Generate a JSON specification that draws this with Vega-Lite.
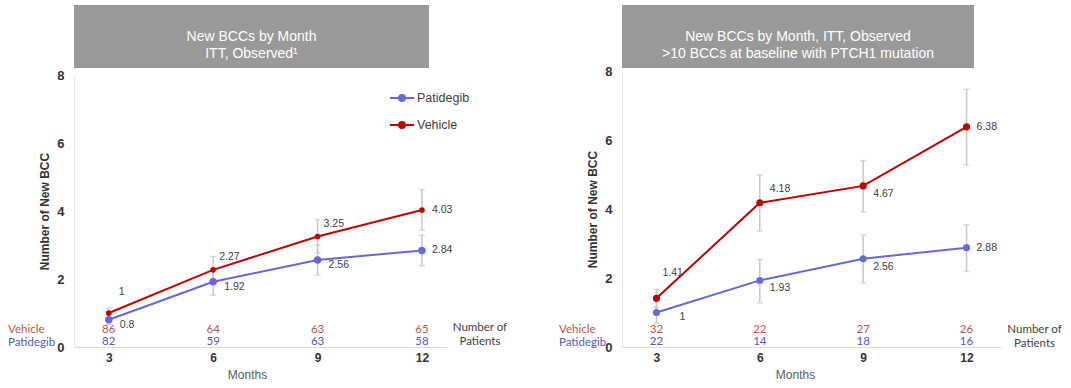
{
  "$schema": "https://vega.github.io/schema/vega-lite/v6.json",
  "background": "white",
  "padding": {"left": 8, "top": 5, "right": 5, "bottom": 0},
  "config": {"view": {"stroke": null}, "font": "Liberation Sans"},
  "datasets": {
    "itt": [
      {"month": 3, "group": "Vehicle", "mean": 1, "lo": 0.86, "hi": 1.14, "n": 86},
      {"month": 6, "group": "Vehicle", "mean": 2.27, "lo": 1.88, "hi": 2.66, "n": 64},
      {"month": 9, "group": "Vehicle", "mean": 3.25, "lo": 2.76, "hi": 3.75, "n": 63},
      {"month": 12, "group": "Vehicle", "mean": 4.03, "lo": 3.44, "hi": 4.63, "n": 65},
      {"month": 3, "group": "Patidegib", "mean": 0.8, "lo": 0.66, "hi": 0.94, "n": 82},
      {"month": 6, "group": "Patidegib", "mean": 1.92, "lo": 1.53, "hi": 2.31, "n": 59},
      {"month": 9, "group": "Patidegib", "mean": 2.56, "lo": 2.12, "hi": 3.0, "n": 63},
      {"month": 12, "group": "Patidegib", "mean": 2.84, "lo": 2.39, "hi": 3.29, "n": 58}
    ],
    "ptch": [
      {"month": 3, "group": "Vehicle", "mean": 1.41, "lo": 1.15, "hi": 1.67, "n": 32},
      {"month": 6, "group": "Vehicle", "mean": 4.18, "lo": 3.36, "hi": 4.99, "n": 22},
      {"month": 9, "group": "Vehicle", "mean": 4.67, "lo": 3.92, "hi": 5.4, "n": 27},
      {"month": 12, "group": "Vehicle", "mean": 6.38, "lo": 5.28, "hi": 7.47, "n": 26},
      {"month": 3, "group": "Patidegib", "mean": 1, "lo": 0.69, "hi": 1.31, "n": 22},
      {"month": 6, "group": "Patidegib", "mean": 1.93, "lo": 1.28, "hi": 2.54, "n": 14},
      {"month": 9, "group": "Patidegib", "mean": 2.56, "lo": 1.86, "hi": 3.24, "n": 18},
      {"month": 12, "group": "Patidegib", "mean": 2.88, "lo": 2.19, "hi": 3.54, "n": 16}
    ]
  },
  "bounds": "flush",
  "spacing": 548,
  "resolve": {"scale": {"x": "independent", "y": "independent", "color": "independent"}, "legend": {"color": "independent"}},
  "hconcat": [
    {
      "bounds": "flush",
      "spacing": 7,
      "resolve": {"scale": {"color": "independent"}, "legend": {"color": "independent"}},
      "vconcat": [
        {
          "width": 355,
          "height": 63,
          "data": {"values": [{"title": "New BCCs by Month\nITT, Observed¹"}]},
          "layer": [
            {"mark": {"type": "rect", "fill": "#999999"}, "encoding": {}},
            {"mark": {"type": "text", "color": "white", "fontSize": 14, "lineBreak": "\n", "lineHeight": 17, "align": "center", "baseline": "middle"}, "encoding": {"text": {"field": "title"}}}
          ]
        },
        {
          "width": 373,
          "height": 272,
          "data": {"name": "itt"},
          "encoding": {
            "x": {"field": "month", "type": "quantitative", "scale": {"domain": [2, 12.72], "nice": false, "zero": false},
                  "axis": {"values": [3, 6, 9, 12], "title": "Months", "titleX": 173, "grid": false, "ticks": false, "domainColor": "#d9d9d9", "labelFontSize": 12, "labelFontWeight": "bold", "labelColor": "#333333", "labelPadding": 5, "titleFontSize": 12, "titleFontWeight": "normal", "titleColor": "#595959", "titlePadding": 6}},
            "y": {"field": "mean", "type": "quantitative", "scale": {"domain": [0, 8], "nice": false},
                  "axis": {"values": [0, 2, 4, 6, 8], "title": "Number of New BCC", "grid": false, "ticks": false, "domainColor": "#e6e6e6", "labelFontSize": 13, "labelFontWeight": "bold", "labelColor": "#333333", "labelPadding": 10, "titleFontSize": 12, "titleFontWeight": "bold", "titleColor": "#333333", "titlePadding": 5}}
          },
          "layer": [
            {
              "mark": {"type": "errorbar", "ticks": {"size": 6}, "color": "#c8c8c8", "thickness": 1.5},
              "encoding": {
                "y": {"field": "lo", "type": "quantitative", "scale": {"domain": [0, 8], "nice": false},
                      "axis": {"values": [0, 2, 4, 6, 8], "title": "Number of New BCC", "grid": false, "ticks": false, "domainColor": "#e6e6e6", "labelFontSize": 13, "labelFontWeight": "bold", "labelColor": "#333333", "labelPadding": 10, "titleFontSize": 12, "titleFontWeight": "bold", "titleColor": "#333333", "titlePadding": 5}},
                "y2": {"field": "hi"}
              }
            },
            {
              "mark": {"type": "line", "strokeWidth": 2},
              "encoding": {"color": {"field": "group", "type": "nominal", "scale": {"domain": ["Patidegib", "Vehicle"], "range": ["#6666DD", "#C00000"]},
                "legend": {"title": null, "orient": "none", "legendX": 315, "legendY": 10, "symbolType": "M-1,0H1M-0.25,0A0.25,0.25,0,1,1,0.25,0A0.25,0.25,0,1,1,-0.25,0", "symbolSize": 576, "symbolStrokeWidth": 2, "labelFont": "Liberation Sans", "labelFontSize": 12.5, "labelColor": "#404040", "rowPadding": 7, "labelOffset": 2}}}
            },
            {
              "transform": [{"filter": "datum.group == 'Patidegib'"}],
              "mark": {"type": "point", "filled": true, "opacity": 1, "size": 55},
              "encoding": {"color": {"field": "group", "type": "nominal", "scale": {"domain": ["Patidegib", "Vehicle"], "range": ["#6666DD", "#C00000"]}}}
            },
            {
              "transform": [{"filter": "datum.group == 'Vehicle'"}],
              "mark": {"type": "point", "filled": true, "opacity": 1, "size": 32},
              "encoding": {"color": {"field": "group", "type": "nominal", "scale": {"domain": ["Patidegib", "Vehicle"], "range": ["#6666DD", "#C00000"]}}}
            },
            {
              "transform": [{"filter": "datum.month == 12"}],
              "mark": {"type": "text", "align": "left", "baseline": "middle", "dx": 10, "fontSize": 10.5, "color": "#404040"},
              "encoding": {"text": {"field": "mean", "type": "quantitative"}}
            },
            {
              "transform": [{"filter": "datum.month == 3 && datum.group == 'Vehicle'"}],
              "mark": {"type": "text", "align": "left", "baseline": "middle", "dx": 10, "dy": -21, "fontSize": 10.5, "color": "#404040"},
              "encoding": {"text": {"field": "mean", "type": "quantitative"}}
            },
            {
              "transform": [{"filter": "(datum.month == 6 || datum.month == 9) && datum.group == 'Vehicle'"}],
              "mark": {"type": "text", "align": "left", "baseline": "middle", "dx": 6, "dy": -13, "fontSize": 10.5, "color": "#404040"},
              "encoding": {"text": {"field": "mean", "type": "quantitative"}}
            },
            {
              "transform": [{"filter": "datum.month < 12 && datum.group == 'Patidegib'"}],
              "mark": {"type": "text", "align": "left", "baseline": "middle", "dx": 11, "dy": 5, "fontSize": 10.5, "color": "#404040"},
              "encoding": {"text": {"field": "mean", "type": "quantitative"}}
            },
            {
              "transform": [{"filter": "datum.group == 'Vehicle'"}],
              "mark": {"type": "text", "align": "center", "baseline": "middle", "dy": -17, "font": "Lato", "fontSize": 11.5, "color": "#C0504D"},
              "encoding": {"y": {"datum": 0}, "text": {"field": "n", "type": "quantitative"}}
            },
            {
              "transform": [{"filter": "datum.group == 'Patidegib'"}],
              "mark": {"type": "text", "align": "center", "baseline": "middle", "dy": -5, "font": "Lato", "fontSize": 11.5, "color": "#5555CC"},
              "encoding": {"y": {"datum": 0}, "text": {"field": "n", "type": "quantitative"}}
            },
            {
              "transform": [{"filter": "datum.month == 3 && datum.group == 'Vehicle'"}],
              "mark": {"type": "text", "align": "left", "baseline": "middle", "dx": -66, "dy": -17, "font": "Lato", "fontSize": 11.5, "color": "#C0504D"},
              "encoding": {"x": {"datum": 2}, "y": {"datum": 0}, "text": {"field": "group"}}
            },
            {
              "transform": [{"filter": "datum.month == 3 && datum.group == 'Patidegib'"}],
              "mark": {"type": "text", "align": "left", "baseline": "middle", "dx": -66, "dy": -4, "font": "Lato", "fontSize": 11.5, "color": "#5555CC"},
              "encoding": {"x": {"datum": 2}, "y": {"datum": 0}, "text": {"field": "group"}}
            },
            {
              "transform": [{"filter": "datum.month == 12 && datum.group == 'Vehicle'"}],
              "mark": {"type": "text", "align": "center", "baseline": "middle", "dx": 58, "dy": -19, "font": "Lato", "fontSize": 11.5, "color": "#404040", "text": "Number of"},
              "encoding": {"y": {"datum": 0}}
            },
            {
              "transform": [{"filter": "datum.month == 12 && datum.group == 'Vehicle'"}],
              "mark": {"type": "text", "align": "center", "baseline": "middle", "dx": 58, "dy": -5, "font": "Lato", "fontSize": 11.5, "color": "#404040", "text": "Patients"},
              "encoding": {"y": {"datum": 0}}
            }
          ]
        }
      ]
    },
    {
      "bounds": "flush",
      "spacing": 3,
      "vconcat": [
        {
          "width": 352,
          "height": 63,
          "data": {"values": [{"title": "New BCCs by Month, ITT, Observed\n>10 BCCs at baseline with PTCH1 mutation"}]},
          "layer": [
            {"mark": {"type": "rect", "fill": "#999999"}, "encoding": {}},
            {"mark": {"type": "text", "color": "white", "fontSize": 14, "lineBreak": "\n", "lineHeight": 17, "align": "center", "baseline": "middle"}, "encoding": {"text": {"field": "title"}}}
          ]
        },
        {
          "width": 379,
          "height": 276,
          "data": {"name": "ptch"},
          "encoding": {
            "x": {"field": "month", "type": "quantitative", "scale": {"domain": [2, 13], "nice": false, "zero": false},
                  "axis": {"values": [3, 6, 9, 12], "title": "Months", "titleX": 173, "grid": false, "ticks": false, "domainColor": "#d9d9d9", "labelFontSize": 12, "labelFontWeight": "bold", "labelColor": "#333333", "labelPadding": 5, "titleFontSize": 12, "titleFontWeight": "normal", "titleColor": "#595959", "titlePadding": 6}},
            "y": {"field": "mean", "type": "quantitative", "scale": {"domain": [0, 8], "nice": false},
                  "axis": {"values": [0, 2, 4, 6, 8], "title": "Number of New BCC", "grid": false, "ticks": false, "domainColor": "#e6e6e6", "labelFontSize": 13, "labelFontWeight": "bold", "labelColor": "#333333", "labelPadding": 10, "titleFontSize": 12, "titleFontWeight": "bold", "titleColor": "#333333", "titlePadding": 5}}
          },
          "layer": [
            {
              "mark": {"type": "errorbar", "ticks": {"size": 6}, "color": "#c8c8c8", "thickness": 1.5},
              "encoding": {
                "y": {"field": "lo", "type": "quantitative", "scale": {"domain": [0, 8], "nice": false},
                      "axis": {"values": [0, 2, 4, 6, 8], "title": "Number of New BCC", "grid": false, "ticks": false, "domainColor": "#e6e6e6", "labelFontSize": 13, "labelFontWeight": "bold", "labelColor": "#333333", "labelPadding": 10, "titleFontSize": 12, "titleFontWeight": "bold", "titleColor": "#333333", "titlePadding": 5}},
                "y2": {"field": "hi"}
              }
            },
            {
              "mark": {"type": "line", "strokeWidth": 2},
              "encoding": {"color": {"field": "group", "type": "nominal", "scale": {"domain": ["Patidegib", "Vehicle"], "range": ["#6666DD", "#C00000"]}, "legend": null}}
            },
            {
              "mark": {"type": "point", "filled": true, "opacity": 1, "size": 50},
              "encoding": {"color": {"field": "group", "type": "nominal", "scale": {"domain": ["Patidegib", "Vehicle"], "range": ["#6666DD", "#C00000"]}, "legend": null}}
            },
            {
              "transform": [{"filter": "datum.month == 12"}],
              "mark": {"type": "text", "align": "left", "baseline": "middle", "dx": 10, "fontSize": 10.5, "color": "#404040"},
              "encoding": {"text": {"field": "mean", "type": "quantitative"}}
            },
            {
              "transform": [{"filter": "datum.month == 3 && datum.group == 'Vehicle'"}],
              "mark": {"type": "text", "align": "left", "baseline": "middle", "dx": 6, "dy": -25, "fontSize": 10.5, "color": "#404040"},
              "encoding": {"text": {"field": "mean", "type": "quantitative"}}
            },
            {
              "transform": [{"filter": "datum.month == 6 && datum.group == 'Vehicle'"}],
              "mark": {"type": "text", "align": "left", "baseline": "middle", "dx": 10, "dy": -14, "fontSize": 10.5, "color": "#404040"},
              "encoding": {"text": {"field": "mean", "type": "quantitative"}}
            },
            {
              "transform": [{"filter": "(datum.month == 6 || datum.month == 9) && datum.group == 'Patidegib' || datum.month == 9 && datum.group == 'Vehicle'"}],
              "mark": {"type": "text", "align": "left", "baseline": "middle", "dx": 10, "dy": 8, "fontSize": 10.5, "color": "#404040"},
              "encoding": {"text": {"field": "mean", "type": "quantitative"}}
            },
            {
              "transform": [{"filter": "datum.month == 3 && datum.group == 'Patidegib'"}],
              "mark": {"type": "text", "align": "left", "baseline": "middle", "dx": 23, "dy": 4, "fontSize": 10.5, "color": "#404040"},
              "encoding": {"text": {"field": "mean", "type": "quantitative"}}
            },
            {
              "transform": [{"filter": "datum.group == 'Vehicle'"}],
              "mark": {"type": "text", "align": "center", "baseline": "middle", "dy": -17, "font": "Lato", "fontSize": 11.5, "color": "#C0504D"},
              "encoding": {"y": {"datum": 0}, "text": {"field": "n", "type": "quantitative"}}
            },
            {
              "transform": [{"filter": "datum.group == 'Patidegib'"}],
              "mark": {"type": "text", "align": "center", "baseline": "middle", "dy": -5, "font": "Lato", "fontSize": 11.5, "color": "#5555CC"},
              "encoding": {"y": {"datum": 0}, "text": {"field": "n", "type": "quantitative"}}
            },
            {
              "transform": [{"filter": "datum.month == 3 && datum.group == 'Vehicle'"}],
              "mark": {"type": "text", "align": "left", "baseline": "middle", "dx": -63, "dy": -17, "font": "Lato", "fontSize": 11.5, "color": "#C0504D"},
              "encoding": {"x": {"datum": 2}, "y": {"datum": 0}, "text": {"field": "group"}}
            },
            {
              "transform": [{"filter": "datum.month == 3 && datum.group == 'Patidegib'"}],
              "mark": {"type": "text", "align": "left", "baseline": "middle", "dx": -63, "dy": -4, "font": "Lato", "fontSize": 11.5, "color": "#5555CC"},
              "encoding": {"x": {"datum": 2}, "y": {"datum": 0}, "text": {"field": "group"}}
            },
            {
              "transform": [{"filter": "datum.month == 12 && datum.group == 'Vehicle'"}],
              "mark": {"type": "text", "align": "center", "baseline": "middle", "dx": 68, "dy": -17, "font": "Lato", "fontSize": 11.5, "color": "#404040", "text": "Number of"},
              "encoding": {"y": {"datum": 0}}
            },
            {
              "transform": [{"filter": "datum.month == 12 && datum.group == 'Vehicle'"}],
              "mark": {"type": "text", "align": "center", "baseline": "middle", "dx": 68, "dy": -3, "font": "Lato", "fontSize": 11.5, "color": "#404040", "text": "Patients"},
              "encoding": {"y": {"datum": 0}}
            }
          ]
        }
      ]
    }
  ]
}
